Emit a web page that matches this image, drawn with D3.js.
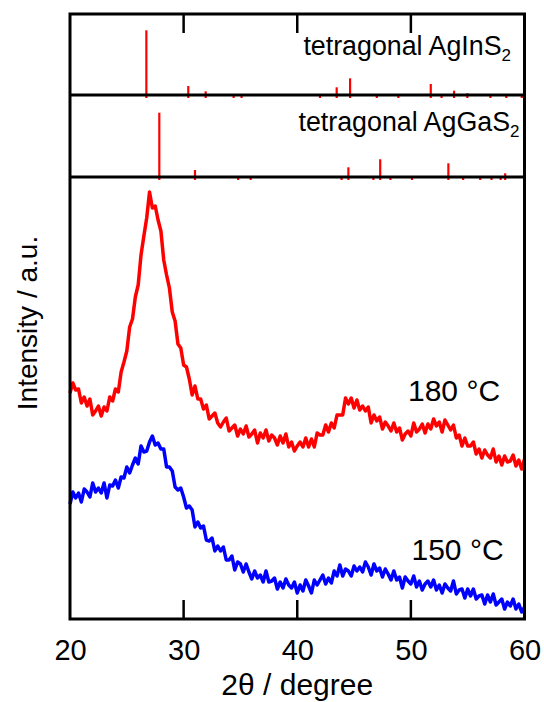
<!DOCTYPE html>
<html><head><meta charset="utf-8">
<script src="https://cdn.jsdelivr.net/npm/d3@7/dist/d3.min.js"></script>
<style>
html,body{margin:0;padding:0;background:#fff;}
text{font-family:"Liberation Sans",Arial,sans-serif;fill:#000;}
</style></head>
<body>
<svg id="c" width="544" height="702"></svg>
<script>
// ---- data ----
const twoThetaStart = 20, twoThetaStep = 0.25;
const red180 = [226,236,229,230,216,222,213,220,204,208,213,203,212,208,222,218,230,227,247,257,
268,292,300,322,334,364,383,401,427,411,413,399,388,359,344,331,307,298,275,271,
254,252,240,224,233,220,220,210,214,200,203,206,196,192,197,201,188,191,194,183,
190,185,193,182,185,189,176,186,181,189,178,184,181,174,183,176,185,172,177,168,
173,177,172,181,172,180,172,186,184,184,194,187,196,191,204,204,204,221,215,221,
211,219,209,213,208,212,196,204,198,202,190,197,193,188,196,187,191,179,185,188,
183,196,187,190,195,186,195,190,200,193,197,187,199,194,189,194,181,184,173,181,
173,173,177,165,170,161,169,164,161,170,157,163,154,163,157,158,164,153,159,150,160];
const blue150 = [115,127,121,126,117,130,127,122,136,127,131,126,136,121,134,133,139,131,142,141,
152,146,154,161,155,173,167,168,177,183,174,176,170,170,152,152,148,132,129,131,
122,111,113,109,92,97,91,93,79,78,81,68,73,68,72,59,59,63,49,57,
55,47,55,47,40,48,41,44,37,48,37,38,41,30,37,31,40,34,31,37,
26,34,28,39,33,26,39,34,39,44,35,41,36,48,43,54,43,50,48,43,
53,48,52,47,57,52,44,55,48,51,42,50,45,39,48,39,42,31,42,38,
35,43,32,38,29,35,38,32,39,29,34,26,35,31,28,38,25,29,30,21,
30,23,30,20,23,24,15,24,17,25,14,17,20,10,17,13,20,10,15,7,12];

// reference patterns (2θ, relative intensity)
const agInS2Pos = [26.72,30.41,31.94,34.4,35.1,42.0,43.47,44.65,47.0,48.9,51.75,52.7,53.8,54.97,57.0,58.4,59.76];
const agInS2Int = [100,17.7,9.9,3,3,3,15.8,29.1,3,3,20.7,3,10.8,7,3,3,3];
const agGaS2Pos = [27.86,31.0,34.8,35.9,43.9,44.5,46.7,47.3,48.2,50.1,53.3,54.6,56.1,57.1,57.9,58.3];
const agGaS2Int = [100,14.9,3,3,3,18.9,3,30.8,3,3,24.8,3,3,3,4,10];

const xTicks = [20,30,40,50,60];
const innerTicks = [30,40,50];

// ---- drawing ----
const svg = d3.select("#c");
const L = 70, R = 524.5, T = 14, S1 = 95, S2 = 177, B = 619;
const x = d3.scaleLinear().domain([20,60]).range([L,R]);
const y = d3.scaleLinear().domain([0,442]).range([B,S2]);
const yTop = d3.scaleLinear().domain([0,100]).range([98,30.3]);
const yMid = d3.scaleLinear().domain([0,100]).range([180,112.7]);

const toPts = arr => arr.map((v,i)=>({t: twoThetaStart + i*twoThetaStep, v}));
const line = d3.line().x(d=>x(d.t)).y(d=>y(d.v));

svg.append("path").datum(toPts(red180)).attr("d",line)
  .attr("fill","none").attr("stroke","#ff0000").attr("stroke-width",3.5).attr("stroke-linejoin","round");
svg.append("path").datum(toPts(blue150)).attr("d",line)
  .attr("fill","none").attr("stroke","#0000ff").attr("stroke-width",3.5).attr("stroke-linejoin","round");

// stick patterns
svg.append("g").selectAll("line").data(agInS2Pos.map((p,i)=>({p,v:agInS2Int[i]}))).join("line")
  .attr("x1",d=>x(d.p)).attr("x2",d=>x(d.p)).attr("y1",yTop(0)).attr("y2",d=>yTop(d.v))
  .attr("stroke","#ff0000").attr("stroke-width",2.2);
svg.append("g").selectAll("line").data(agGaS2Pos.map((p,i)=>({p,v:agGaS2Int[i]}))).join("line")
  .attr("x1",d=>x(d.p)).attr("x2",d=>x(d.p)).attr("y1",yMid(0)).attr("y2",d=>yMid(d.v))
  .attr("stroke","#ff0000").attr("stroke-width",2.2);

// frame
const fr = svg.append("g").attr("fill","none").attr("stroke","#000").attr("stroke-width",3);
fr.append("rect").attr("x",L).attr("y",T).attr("width",R-L).attr("height",B-T);
fr.append("line").attr("x1",L).attr("x2",R).attr("y1",S1).attr("y2",S1);
fr.append("line").attr("x1",L).attr("x2",R).attr("y1",S2).attr("y2",S2);

// bottom axis
const ax = svg.append("g").attr("transform",`translate(0,${B})`)
  .call(d3.axisBottom(x).tickValues(xTicks).tickSize(0).tickPadding(20.5).tickFormat(d3.format("d")));
ax.select(".domain").remove();
ax.selectAll("text").attr("font-size",29).attr("font-family","'Liberation Sans',Arial,sans-serif").attr("fill","#000");
svg.append("g").selectAll("line").data(innerTicks).join("line")
  .attr("x1",d=>x(d)).attr("x2",d=>x(d)).attr("y1",B).attr("y2",B-19)
  .attr("stroke","#000").attr("stroke-width",2.5);
svg.append("g").selectAll("line").data(innerTicks).join("line")
  .attr("x1",d=>x(d)).attr("x2",d=>x(d)).attr("y1",T).attr("y2",T+19)
  .attr("stroke","#000").attr("stroke-width",2.5);

// titles
svg.append("text").attr("x",(L+R)/2).attr("y",695).attr("text-anchor","middle")
  .attr("font-size",30).text("2θ / degree");
svg.append("text").attr("transform","translate(37,323) rotate(-90)").attr("text-anchor","middle")
  .attr("font-size",28).text("Intensity / a.u.");

// labels
function phase(xEnd, yBase, name){
  const t = svg.append("text").attr("x",xEnd).attr("y",yBase).attr("text-anchor","end").attr("font-size",26.8);
  t.append("tspan").text("tetragonal " + name);
  t.append("tspan").attr("font-size",17).attr("dy",6).text("2");
}
phase(511, 55, "AgInS");
phase(519.5, 130.5, "AgGaS");

svg.append("text").attr("x",408).attr("y",401).attr("font-size",30).text("180 °C");
svg.append("text").attr("x",411.5).attr("y",560).attr("font-size",30).text("150 °C");
</script>
</body></html>
